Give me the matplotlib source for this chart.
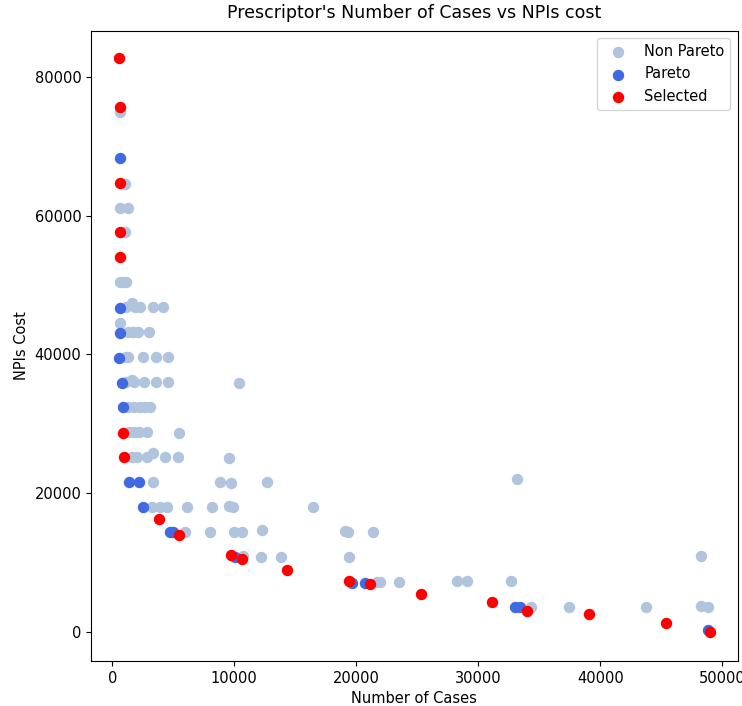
import matplotlib
matplotlib.use("Agg")
import matplotlib.pyplot as plt

# Non Pareto prescriptors
non_pareto_cases = [631, 1040, 631, 1310, 1040, 631, 880, 1150,
                    1150, 1590, 1900, 2300, 3360, 4180,
                    631,
                    1310, 1720, 2130, 3030,
                    1150, 1310, 2490, 3580, 4540,
                    1150, 1590, 1800, 2620, 3580, 4540, 10390,
                    1310, 1800, 2300, 2700, 3090,
                    1400, 1800, 2200, 2820, 5490,
                    1590, 2000, 2820, 3360, 4320, 5410, 9570,
                    3360, 8830, 9700, 12660, 33150,
                    3230, 3910, 4460, 6100, 8150, 9590, 9920, 16430,
                    5960, 8010, 9980, 10610, 12300, 19100, 19300, 21340,
                    10740, 12160, 13830, 19430, 48250,
                    21720, 21940, 23500, 28280, 29100, 32660,
                    34300, 37430, 43720, 48250, 48850]
non_pareto_cost = [74960, 64560, 61140, 61140, 57680, 50400, 50400, 50400,
                   46800, 47400, 46800, 46800, 46800, 46800,
                   44490,
                   43200, 43200, 43200, 43200,
                   39680, 39600, 39600, 39600, 39600,
                   36000, 36330, 36000, 36000, 36000, 36000, 35940,
                   32400, 32400, 32400, 32400, 32400,
                   28800, 28800, 28800, 28800, 28700,
                   25200, 25200, 25200, 25770, 25200, 25300, 25140,
                   21600, 21600, 21450, 21600, 22030,
                   18000, 18000, 18000, 18000, 18000, 18230, 18000, 18000,
                   14400, 14400, 14400, 14400, 14730, 14630, 14400, 14400,
                   10990, 10800, 10800, 10800, 10940,
                   7200, 7200, 7200, 7390, 7390, 7390,
                   3600, 3600, 3600, 3840, 3600]

# Pareto prescriptors
pareto_cases = [631, 631, 631, 574, 770, 852, 1390, 2210, 2490,
                4700, 4950, 10060, 19620, 20710, 33010, 33420, 48800]
pareto_cost = [68250, 46650, 43140, 39540, 35940, 32400, 21600, 21600, 18000,
               14490, 14490, 10890, 7140, 7140, 3600, 3600, 330]

# Selected prescriptors
selected_cases = [574, 631, 631, 631, 631, 852, 984, 3830, 5490, 9700,
                  10610, 14340, 19430, 21130, 25280, 31100, 33970, 39100,
                  45390, 48990]
selected_cost = [82650, 75600, 64650, 57600, 54080, 28740, 25280, 16310,
                 14010, 11130, 10510, 8970, 7390, 6910, 5470, 4410, 3110,
                 2590, 1300, 0]

plt.rcParams['font.family'] = ['DejaVu Sans']
fig = plt.figure(figsize=(7.42, 7.06), dpi=100)
ax = fig.add_axes([91 / 742, 1 - 661 / 706, (737.5 - 91) / 742, (661 - 31) / 706])

ax.scatter(non_pareto_cases, non_pareto_cost, s=52, color='lightsteelblue',
           label='Non Pareto', zorder=2)
ax.scatter(pareto_cases, pareto_cost, s=52, color='royalblue',
           label='Pareto', zorder=3)
ax.scatter(selected_cases, selected_cost, s=52, color='red',
           label='Selected', zorder=4)

ax.set_xlim(-1746, 51246)
ax.set_ylim(-4133, 86580)
ax.set_xticks([0, 10000, 20000, 30000, 40000, 50000])
ax.set_yticks([0, 20000, 40000, 60000, 80000])
ax.tick_params(labelsize=10.5)
ax.set_xlabel('Number of Cases', fontsize=10.5)
ax.set_ylabel('NPIs Cost', fontsize=10.5)
ax.set_title("Prescriptor's Number of Cases vs NPIs cost", fontsize=12.5, pad=9)
ax.legend(loc='upper right', fontsize=10.5)

fig.savefig('out.png', dpi=100)
